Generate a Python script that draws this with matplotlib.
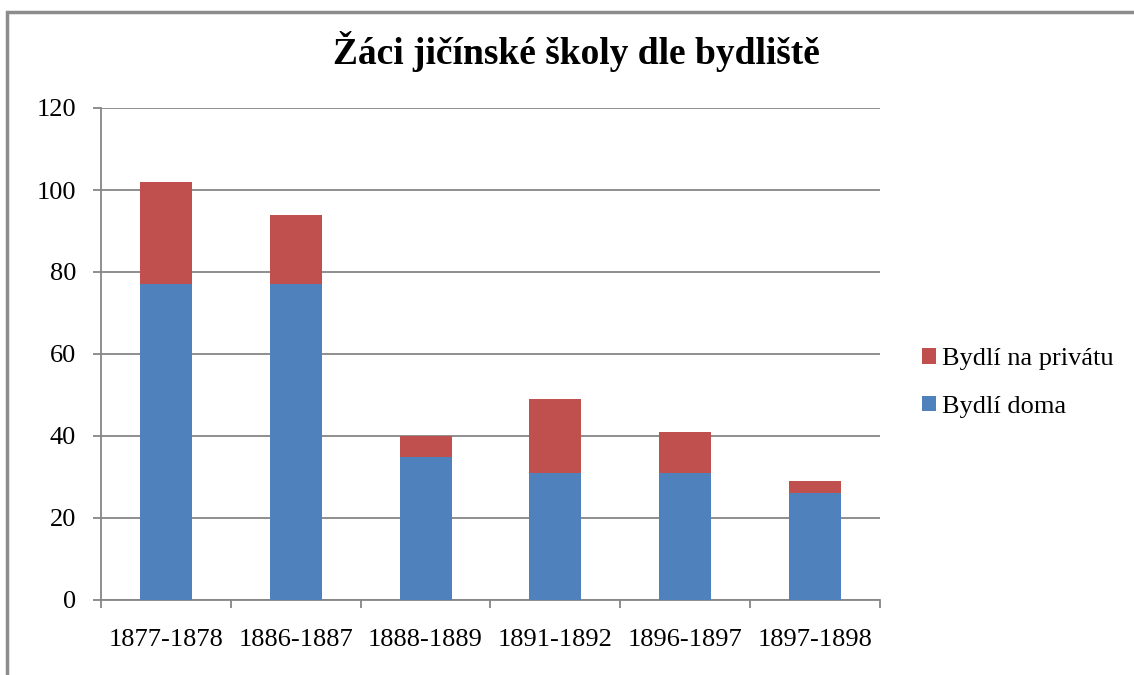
import matplotlib.pyplot as plt
import numpy as np
from matplotlib.patches import Rectangle

# data
roky = ['1877-1878', '1886-1887', '1888-1889', '1891-1892', '1896-1897', '1897-1898']
doma = [77, 77, 35, 31, 31, 26]
privat = [25, 17, 5, 18, 10, 3]

plt.rcParams['font.family'] = ['Liberation Serif', 'DejaVu Serif']

fig = plt.figure(figsize=(11.34, 6.75), dpi=100)
ax = fig.add_axes([101 / 1134, 75 / 675, 779 / 1134, 492 / 675])

x = np.arange(len(roky))
ax.bar(x, doma, width=0.4, color='#4f81bd', label='Bydlí doma', zorder=3)
ax.bar(x, privat, width=0.4, bottom=doma, color='#c0504d', label='Bydlí na privátu', zorder=3)

ax.set_xlim(-0.5, len(roky) - 0.5)
ax.set_ylim(0, 120)
ax.set_yticks(range(0, 121, 20))
ax.set_xticks(x)
ax.set_xticklabels(roky)
ax.set_xticks(np.arange(-0.5, len(roky)), minor=True)
ax.tick_params(axis='x', which='major', length=0, pad=21, labelsize=19)
ax.tick_params(axis='x', which='minor', length=6, color='#868686', width=1.3)
ax.tick_params(axis='y', length=6, color='#868686', width=1.3, labelsize=19, pad=12)
ax.grid(axis='y', color='#868686', linewidth=1.3, zorder=0)
for s in ['top', 'right']:
    ax.spines[s].set_visible(False)
for s in ['left', 'bottom']:
    ax.spines[s].set_color('#868686')
    ax.spines[s].set_linewidth(1.3)

# nadpis
fig.text(576 / 1134, 1 - 52 / 675, 'Žáci jičínské školy dle bydliště',
         ha='center', va='center', fontsize=27, fontweight='bold')

# legenda - obrácené pořadí
h, l = ax.get_legend_handles_labels()
fig.legend(h[::-1], l[::-1], loc='center left', bbox_to_anchor=(898 / 1134, 1 - 383 / 675),
           frameon=False, fontsize=19, handlelength=0.55, handleheight=0.55,
           handletextpad=0.2, labelspacing=0.95)

# rámeček grafu
fig.patches.append(Rectangle((7 / 1134, -0.1), 1.2, 1 - 12 / 675 + 0.1,
                             transform=fig.transFigure, fill=False,
                             edgecolor='#8c8c8c', linewidth=2.5))

fig.savefig('out.png', dpi=100)
